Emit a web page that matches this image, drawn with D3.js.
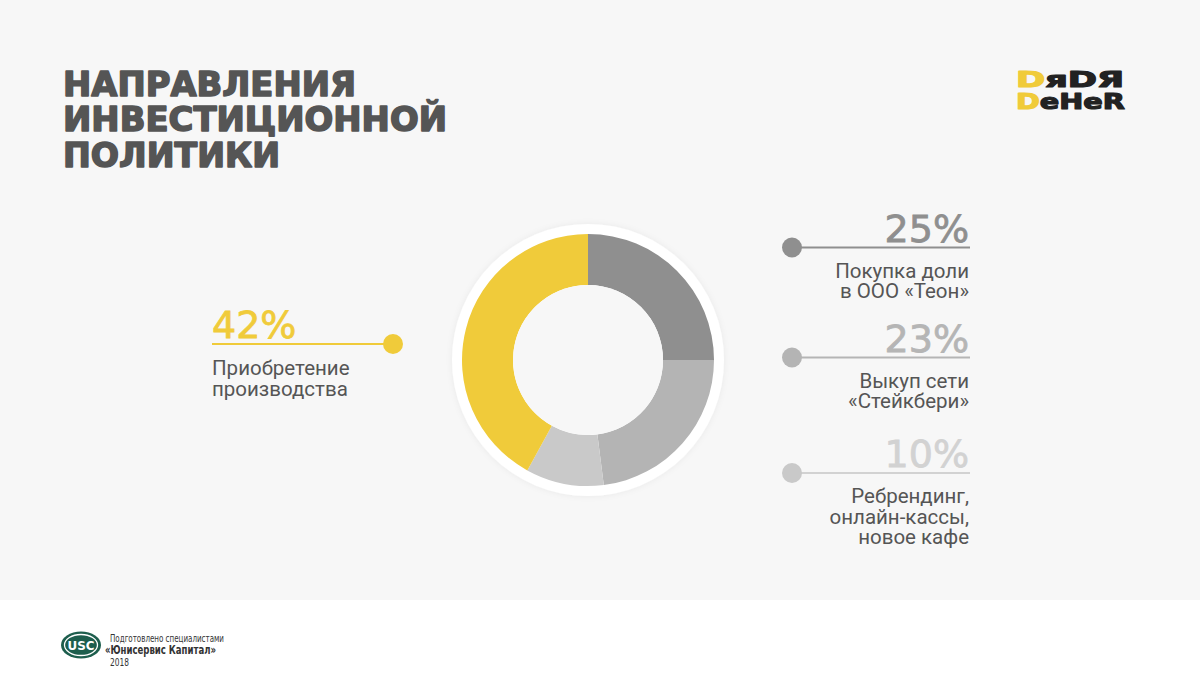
<!DOCTYPE html>
<html>
<head>
<meta charset="utf-8">
<script src="https://cdn.jsdelivr.net/npm/d3@7"></script>
<style>
  body { margin: 0; background: #ffffff; }
  svg { display: block; }
</style>
</head>
<body>
<div id="chart"></div>
<script>
// Data
const categories = ["Покупка доли в ООО «Теон»", "Выкуп сети «Стейкбери»", "Ребрендинг, онлайн-кассы, новое кафе", "Приобретение производства"];
const values = [25, 23, 10, 42];
const labelLines = [
  ["Покупка доли", "в ООО «Теон»"],
  ["Выкуп сети", "«Стейкбери»"],
  ["Ребрендинг,", "онлайн-кассы,", "новое кафе"],
  ["Приобретение", "производства"]
];
const colors = ["#8f8f8f", "#b4b4b4", "#c9c9c9", "#f0cb3a"];
const textColors = ["#8f8f8f", "#b5b5b5", "#d2d2d2", "#f0cb3a"];
const titleLines = ["НАПРАВЛЕНИЯ", "ИНВЕСТИЦИОННОЙ", "ПОЛИТИКИ"];

const W = 1200, H = 700;
const svg = d3.select("#chart").append("svg")
    .attr("width", W)
    .attr("height", H);

// Background panel
svg.append("rect").attr("width", W).attr("height", 600).attr("fill", "#f7f7f7");

// Title
const titleWidths = [293, 384, 217];
svg.append("g").selectAll("text")
  .data(titleLines)
  .enter().append("text")
    .attr("x", 63)
    .attr("y", (d, i) => 96 + i * 35.3)
    .attr("font-family", "DejaVu Sans")
    .attr("font-weight", "bold")
    .attr("font-size", 34)
    .attr("fill", "#555555")
    .attr("stroke", "#555555")
    .attr("stroke-width", 1.6)
    .attr("stroke-linejoin", "round")
    .attr("textLength", (d, i) => titleWidths[i])
    .attr("lengthAdjust", "spacingAndGlyphs")
    .text(d => d);

// Logo
const logo = svg.append("g").attr("font-family", "DejaVu Sans").attr("font-weight", "bold").attr("font-size", 22)
  .attr("stroke-width", 1.2).attr("stroke-linejoin", "round");
const l1 = logo.append("text").attr("x", 1016).attr("y", 87).attr("textLength", 108).attr("lengthAdjust", "spacingAndGlyphs");
l1.append("tspan").attr("fill", "#f0cb3a").attr("stroke", "#f0cb3a").text("D");
l1.append("tspan").attr("fill", "#222222").attr("stroke", "#222222").text("яDЯ");
const l2 = logo.append("text").attr("x", 1016).attr("y", 109).attr("textLength", 109).attr("lengthAdjust", "spacingAndGlyphs");
l2.append("tspan").attr("fill", "#f0cb3a").attr("stroke", "#f0cb3a").text("D");
l2.append("tspan").attr("fill", "#222222").attr("stroke", "#222222").text("eHeR");

// Donut
const cx = 588, cy = 360;
const outerR = 126, innerR = 75;
const g = svg.append("g").attr("transform", `translate(${cx},${cy})`);

const defs = svg.append("defs");
const f = defs.append("filter").attr("id", "shadow").attr("x", "-20%").attr("y", "-20%").attr("width", "140%").attr("height", "140%");
f.append("feDropShadow").attr("dx", 0).attr("dy", 0).attr("stdDeviation", 3).attr("flood-color", "#000").attr("flood-opacity", 0.06);

g.append("circle").attr("r", 136).attr("fill", "#ffffff").attr("filter", "url(#shadow)");

const pie = d3.pie().sort(null).value(d => d);
const arc = d3.arc().innerRadius(innerR).outerRadius(outerR);
g.selectAll("path")
  .data(pie(values))
  .enter().append("path")
    .attr("d", arc)
    .attr("fill", (d, i) => colors[i]);
g.append("circle").attr("r", innerR).attr("fill", "#f7f7f7");

// Legend (right side)
const rightLineY = [247.5, 357.5, 473];
const legend = svg.append("g").attr("font-family", "Roboto, 'Liberation Sans', sans-serif");

rightLineY.forEach((ly, i) => {
  legend.append("line")
    .attr("x1", 792).attr("x2", 970)
    .attr("y1", ly).attr("y2", ly)
    .attr("stroke", textColors[i]).attr("stroke-width", 2);
  legend.append("circle")
    .attr("cx", 792).attr("cy", ly).attr("r", 10)
    .attr("fill", colors[i]);
  legend.append("text")
    .attr("x", 969).attr("y", ly - 6)
    .attr("text-anchor", "end")
    .attr("font-family", "DejaVu Sans")
    .attr("font-size", 38)
    .attr("fill", textColors[i])
    .attr("stroke", textColors[i])
    .attr("stroke-width", 0.8)
    .text(values[i] + "%");
  labelLines[i].forEach((t, j) => {
    legend.append("text")
      .attr("x", 969).attr("y", ly + 30 + j * 20.5)
      .attr("text-anchor", "end")
      .attr("font-size", 20.5)
      .attr("fill", "#555555")
      .text(t);
  });
});

// Legend (left side, 42%)
const leftY = 344;
legend.append("line")
  .attr("x1", 212).attr("x2", 393)
  .attr("y1", leftY).attr("y2", leftY)
  .attr("stroke", "#f0cb3a").attr("stroke-width", 2);
legend.append("circle")
  .attr("cx", 393).attr("cy", leftY).attr("r", 10)
  .attr("fill", colors[3]);
legend.append("text")
  .attr("x", 212).attr("y", leftY - 6)
  .attr("font-family", "DejaVu Sans")
  .attr("font-size", 38)
  .attr("fill", textColors[3])
  .attr("stroke", textColors[3])
  .attr("stroke-width", 0.8)
  .text(values[3] + "%");
labelLines[3].forEach((t, j) => {
  legend.append("text")
    .attr("x", 212).attr("y", leftY + 31 + j * 20.5)
    .attr("font-size", 20.5)
    .attr("fill", "#555555")
    .text(t);
});

// Footer
const foot = svg.append("g");
foot.append("ellipse").attr("cx", 81).attr("cy", 645).attr("rx", 20).attr("ry", 13.5).attr("fill", "#1d5e4d");
foot.append("ellipse").attr("cx", 81).attr("cy", 645).attr("rx", 16.5).attr("ry", 10.5)
  .attr("fill", "none").attr("stroke", "#ffffff").attr("stroke-width", 1.3);
foot.append("text").attr("x", 81).attr("y", 650).attr("text-anchor", "middle")
  .attr("font-family", "DejaVu Sans").attr("font-weight", "bold").attr("font-size", 13)
  .attr("fill", "#ffffff").attr("textLength", 27).attr("lengthAdjust", "spacingAndGlyphs").text("USC");
foot.append("text").attr("x", 110).attr("y", 642)
  .attr("font-family", "'DejaVu Sans Condensed', 'Liberation Sans Narrow', sans-serif").attr("font-size", 10)
  .attr("fill", "#333").attr("textLength", 114).attr("lengthAdjust", "spacingAndGlyphs").text("Подготовлено специалистами");
foot.append("text").attr("x", 105).attr("y", 654)
  .attr("font-family", "'DejaVu Sans Condensed', 'Liberation Sans Narrow', sans-serif").attr("font-weight", "bold").attr("font-size", 11.5)
  .attr("fill", "#333").attr("textLength", 111).attr("lengthAdjust", "spacingAndGlyphs").text("«Юнисервис Капитал»");
foot.append("text").attr("x", 110).attr("y", 666)
  .attr("font-family", "'DejaVu Sans Condensed', 'Liberation Sans Narrow', sans-serif").attr("font-size", 10)
  .attr("fill", "#333").attr("textLength", 19).attr("lengthAdjust", "spacingAndGlyphs").text("2018");
</script>
</body>
</html>
